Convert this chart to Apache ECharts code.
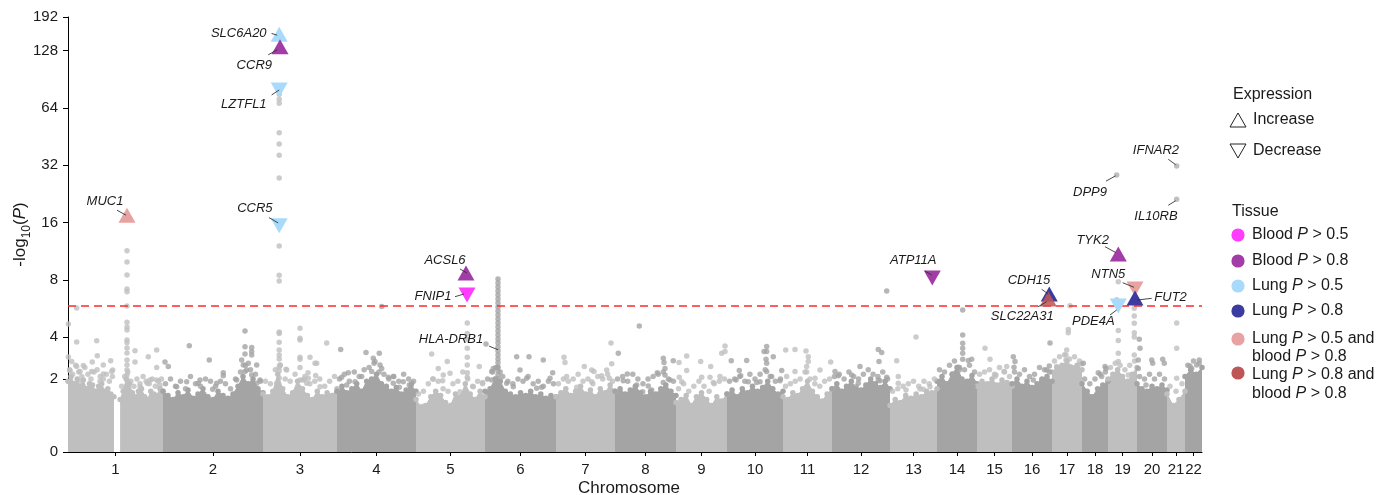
<!DOCTYPE html>
<html><head><meta charset="utf-8">
<script src="https://cdn.jsdelivr.net/npm/echarts@6/dist/echarts.min.js"></script>
<style>html,body{margin:0;padding:0;background:#fff}#chart{width:1387px;height:495px}</style>
</head><body><div id="chart"></div>
<script>
// ---------------- DATA ----------------
const chromLabels = ['1','2','3','4','5','6','7','8','9','10','11','12','13','14','15','16','17','18','19','20','21','22'];
// span of each chromosome on the genome axis (Mb-like units)
const chromSizes = [237.5, 250, 185, 197.5, 172.5, 177.5, 147.5, 152.5, 127.5, 140, 122.5, 145, 117.5, 100, 87.5, 100, 75, 65, 72.5, 75, 45, 42.5];
const yTicks = [0, 2, 4, 8, 16, 32, 64, 128, 192];
const threshold = 5.84;

// upper edge of the dense background cloud (-log10 P), evenly sampled along each chromosome
const cloudTop = [
  [1.9, 2.1, 1.8, 2.0, 1.7, 1.95, 1.6, 1.8, 1.75, 1.5, 1.7, 1.8, 1.5, 1.6, 1.4, 1.3, null, 1.2, 1.5, 2.0, 1.8, 1.45, 1.3, 1.5, 1.6, 1.3, 1.2, 1.5, 1.4, 1.35, 1.6, 1.5],
  [1.5, 1.35, 1.2, 1.45, 1.3, 1.55, 1.25, 1.4, 1.6, 1.3, 1.2, 1.5, 1.35, 1.25, 1.4, 1.7, 2.1, 1.8, 2.0, 1.6, 1.45],
  [1.4, 1.3, 1.5, 2.2, 1.6, 1.3, 1.45, 1.9, 1.6, 1.35, 1.2, 1.5, 1.3, 1.45, 1.35, 1.6],
  [1.5, 1.7, 1.45, 1.6, 1.8, 1.5, 1.9, 2.0, 2.2, 1.8, 1.7, 1.5, 1.65, 1.4, 1.55, 1.75, 1.5],
  [1.2, 0.95, 1.0, 1.3, 1.5, 1.35, 1.1, 1.0, 1.4, 1.3, 1.8, 1.4, 1.2, 1.5, 1.3],
  [1.5, 1.6, 2.0, 1.9, 1.5, 1.4, 1.3, 1.45, 1.35, 1.5, 1.3, 1.4, 1.25, 1.35, 1.3],
  [1.3, 1.45, 1.6, 1.35, 1.5, 1.7, 1.4, 1.55, 1.3, 1.6, 1.45, 1.75, 1.5],
  [1.5, 1.6, 1.4, 1.55, 1.7, 1.45, 1.3, 1.5, 1.4, 1.6, 1.75, 1.5, 1.35],
  [1.1, 1.2, 1.35, 1.0, 1.3, 1.45, 1.2, 1.0, 1.3, 1.15, 1.4],
  [1.4, 1.55, 1.3, 1.6, 1.45, 1.7, 1.5, 1.65, 1.9, 1.6, 1.4, 1.5],
  [1.3, 1.2, 1.45, 1.35, 1.6, 1.9, 1.5, 1.3, 1.15, 1.4, 1.6],
  [1.6, 1.8, 1.5, 1.7, 1.9, 1.6, 1.55, 1.75, 2.0, 1.8, 1.65, 1.9, 1.6],
  [1.0, 1.2, 1.1, 1.35, 1.25, 1.4, 1.3, 1.5, 1.45, 1.6],
  [1.9, 2.1, 1.8, 2.2, 2.5, 2.0, 1.9, 2.15, 1.8],
  [1.7, 1.9, 1.8, 2.0, 1.75, 1.95, 1.85, 1.7],
  [1.8, 2.0, 1.7, 1.9, 1.65, 1.8, 2.0, 2.1, 1.9],
  [2.3, 2.5, 2.6, 2.8, 2.5, 2.6, 2.4],
  [1.8, 1.5, 1.3, 1.6, 1.75, 1.9],
  [2.0, 2.2, 2.4, 2.1, 1.9, 2.2, 2.5],
  [1.8, 1.6, 1.5, 1.7, 1.6, 1.75, 1.55],
  [1.4, 1.0, 1.2, 1.5],
  [2.1, 2.4, 2.2, 2.5]
];
// looser layer of points just above the dense cloud, sampled midway between the cloudTop samples
const cloudSparse = [
  [2.4, 2.2, 2.6, 2.3, 2.1, 2.5, 2.2, 2.0, 2.3, 2.4, 2.1, 2.0, 2.2, 1.9, 2.1, null, null, 1.7, 2.1, 2.3, 1.9, 1.7, 2.0, 1.8, 2.1, 1.9, 1.8, 2.0, 1.7, 1.9, 2.0],
  [1.8, 2.0, 1.7, 1.9, 1.6, 2.1, 1.8, 1.7, 2.0, 1.9, 1.7, 1.9, 1.8, 1.6, 2.0, 2.3, 2.6, 2.4, 2.2, 1.9],
  [1.9, 1.8, 2.4, 2.6, 2.0, 1.9, 2.2, 2.5, 2.1, 1.8, 1.9, 2.0, 1.7, 1.9, 2.1],
  [2.0, 2.2, 1.9, 2.3, 2.1, 2.4, 2.5, 2.7, 2.3, 2.2, 2.0, 2.1, 1.9, 2.2, 2.0, 1.9],
  [1.4, 1.5, 1.8, 2.0, 1.9, 1.6, 1.5, 1.8, 1.9, 2.3, 2.0, 1.7, 1.9, 1.8],
  [2.0, 2.3, 2.5, 2.1, 1.9, 1.8, 2.0, 1.9, 2.1, 1.8, 1.9, 1.7, 1.9, 1.8],
  [1.8, 2.0, 1.9, 2.0, 2.2, 1.9, 2.0, 1.8, 2.1, 2.0, 2.2, 1.9],
  [2.0, 2.1, 1.9, 2.2, 2.0, 1.8, 2.0, 2.1, 2.2, 2.3, 2.0, 1.9],
  [1.6, 1.8, 1.5, 1.7, 1.9, 1.7, 1.5, 1.8, 1.9, 2.0],
  [1.9, 2.0, 2.1, 1.9, 2.2, 2.0, 2.2, 2.4, 2.1, 1.9, 2.0],
  [1.7, 1.8, 1.9, 2.0, 2.3, 2.0, 1.8, 1.7, 1.9, 2.0],
  [2.1, 2.2, 2.0, 2.3, 2.1, 2.0, 2.2, 2.4, 2.2, 2.1, 2.3, 2.0],
  [1.5, 1.6, 1.7, 1.8, 1.9, 1.7, 1.9, 1.8, 2.0],
  [2.4, 2.3, 2.6, 2.8, 2.5, 2.4, 2.6, 2.3],
  [2.2, 2.3, 2.4, 2.2, 2.5, 2.3, 2.1],
  [2.3, 2.2, 2.4, 2.1, 2.2, 2.5, 2.4, 2.3],
  [2.8, 3.0, 3.1, 2.9, 3.0, 2.8],
  [2.0, 1.8, 2.0, 2.2, 2.3],
  [2.5, 2.7, 2.6, 2.4, 2.6, 2.8],
  [2.1, 2.0, 2.2, 2.0, 2.2, 2.0],
  [1.7, 1.5, 1.8],
  [2.6, 2.8, 2.7]
];

// individual points standing out above the cloud: [chromosome, position, -log10 P]
const signals = [
  [1,21.7,5.7],[1,1,4.7],[1,1,2.99],[1,21.7,3.75],[1,71.7,3.82],[1,73.2,3.06],[1,60.7,2.75],[1,21.7,2.55],[1,38.2,2.59],[1,5,2.36],
  [1,106.7,2.81],[1,111.7,2.39],[1,88.2,2.21],[1,167.5,3.3],[1,200.7,3.01],[1,221.7,3.34],[1,167.5,2.75],[1,221.7,2.5],[1,198.2,1.82],[1,221.7,1.95],
  [1,9.2,2.78],[1,30,2.32],[1,88.2,2.61],[1,109.2,2.32],[1,59.2,2.32],[1,34.2,1.9],[1,80,1.9],[1,205,1.95],[1,180,1.68],[1,230,1.75],
  [1,147.5,11.4],[1,147.5,9.94],[1,147.5,8.49],[1,147.5,7.17],[1,147.5,6.93],[1,147.5,5.84],[1,147.5,4.8],[1,147.5,4.53],[1,147.5,4.37],
  [1,147.5,3.86],[1,147.5,3.71],[1,147.5,3.44],[1,147.5,3.19],[1,147.5,2.85],[1,147.5,2.61],[1,147.5,2.39],[1,147.5,2.17],[1,147.5,1.95],
  [2,5,2.75],[2,13.2,2.55],[2,65.7,3.56],[2,115.7,2.85],[2,150.7,2.27],[2,150.7,2.13],[2,59.2,1.88],[2,92.5,1.95],[2,124.2,1.58],[2,205,4.32],
  [2,205,3.5],[2,205,3.14],[2,221.7,3.47],[2,221.7,3.26],[2,221.7,3.09],[2,196.7,2.85],[2,200.7,2.61],[2,213.2,2.69],[2,234.2,2.61],[2,209.2,2.39],
  [2,221.7,2.17],[2,242.5,1.95],[2,234.2,1.82],[2,205,2.32],[2,34.2,1.68],[2,88.2,1.82],[2,134.2,1.82],[2,184.2,1.95],
  [3,40.5,75.4],[3,40.5,71.0],[3,40.5,67.7],[3,40.5,47.4],[3,40.5,41.4],[3,40.5,36.1],[3,40.5,27.4],[3,40.5,12.06],[3,40.5,8.46],[3,40.5,7.9],
  [3,40.5,4.26],[3,40.5,4.19],[3,40.5,3.74],[3,40.5,3.34],[3,40.5,3.09],[3,40.5,2.9],[3,40.5,2.52],[3,40.5,2.35],[3,40.5,2.04],[3,40.5,1.63],
  [3,57.5,2.42],[3,42.5,2.61],[3,92.5,4.46],[3,92.5,3.95],[3,92.5,3.86],[3,92.5,2.98],[3,92.5,2.89],[3,92.5,1.95],[3,117.5,2.98],[3,130,2.69],
  [3,113.2,2.03],[3,99.2,1.95],[3,134.2,2.7],[3,131.7,2.14],[3,103.2,1.98],[3,159.2,3.7],[3,112.5,2.26],[3,59.2,2.39],[3,34.2,1.82],[3,109.2,1.82],[3,142.5,1.68],
  [4,11.7,2.07],[4,9.2,3.37],[4,28.2,2.27],[4,72.5,3.21],[4,105.7,3.18],[4,90.7,2.93],[4,95,2.78],[4,107.5,2.61],[4,111.7,2.46],[4,86.7,2.32],
  [4,111.7,5.8],[4,128.2,2.07],[4,140.7,1.82],[4,155.7,1.66],[4,186.7,1.82],[4,180.7,1.75],[4,45,1.88],[4,61.7,2.1],[4,140.7,2.1],[4,165.7,1.88],[4,24.2,1.75],
  [5,128.2,4.76],[5,128.2,4.19],[5,128.2,3.89],[5,128.2,3.43],[5,128.2,2.98],[5,128.2,2.61],[5,128.2,2.27],[5,128.2,2.07],
  [5,39.2,3.14],[5,41.7,2.0],[5,78.2,2.78],[5,66.7,1.92],[5,110,1.49],[5,68.2,2.17],[5,166.7,1.85],[5,51.7,1.3],[5,18.2,0.97],[5,143.2,1.68],
  [5,158.2,2.55],[5,55.7,2.46],[5,85,2.24],
  [6,32.5,8.09],[6,32.5,7.71],[6,32.5,7.35],[6,32.5,7.0],[6,32.5,6.67],[6,32.5,6.35],[6,32.5,6.06],[6,32.5,5.77],[6,32.5,5.5],[6,32.5,5.24],
  [6,32.5,4.99],[6,32.5,4.76],[6,32.5,4.53],[6,32.5,4.32],[6,32.5,4.11],[6,32.5,3.91],[6,32.5,3.71],[6,32.5,3.49],[6,32.5,3.29],[6,32.5,3.09],
  [6,32.5,2.9],[6,32.5,2.72],[6,32.5,2.52],[6,32.5,2.35],[6,32.5,2.17],[6,32.5,2.0],[6,32.5,1.83],[6,32.5,1.67],[6,32.5,1.52],[6,32.5,1.36],
  [6,27,2.5],[6,38,2.3],[6,27,2.0],[6,38,1.9],[6,25,1.7],[6,40,1.6],
  [6,79.2,3.01],[6,110,3.01],[6,145.7,2.85],[6,87.5,2.39],[6,104.2,2.03],[6,141.7,1.66],[6,169.2,2.27],[6,162.5,2.03],[6,54.2,1.82],[6,16.7,2.32],
  [6,20.7,2.46],[6,2.5,3.64],[6,16.7,1.95],[6,70.7,1.68],[6,129.2,1.62],
  [7,20,2.98],[7,22.5,2.73],[7,70.7,2.55],[7,95,2.32],[7,137.5,3.7],[7,139.2,2.67],[7,133.2,2.03],[7,114.2,2.13],[7,89.2,1.88],[7,26.7,2.1],
  [7,51.7,1.66],[7,89.2,2.39],[7,126.7,2.39],
  [8,8.2,3.18],[8,60.7,4.58],[8,30.7,2.21],[8,20.7,1.92],[8,54.2,1.75],[8,120.7,2.93],[8,122.5,2.73],[8,145.7,2.81],[8,105.7,2.27],[8,125,2.17],
  [8,83.2,1.71],[8,69.2,1.49],[8,120.7,1.85],[8,137.5,1.95],[8,125,2.46],[8,50,1.58],[8,91.7,1.55],
  [9,7.5,2.73],[9,26.7,3.04],[9,26.7,2.36],[9,8.2,2.07],[9,61.7,2.78],[9,86.7,2.55],[9,122.5,3.54],[9,122.5,3.26],[9,114.2,3.18],[9,93.2,1.85],
  [9,64.2,2.07],[9,110,2.1],[9,14.2,1.88],[9,85,2.07],
  [10,10.7,2.81],[10,22.5,1.95],[10,49.2,2.83],[10,53.2,1.88],[10,82.5,1.88],[10,99.2,3.52],[10,99.2,3.26],[10,97.5,2.88],[10,99.2,2.69],[10,115.7,3.01],
  [10,99.2,2.32],[10,111.7,2.1],[10,136.7,2.36],[10,132.5,1.92],[10,92.5,3.26],[10,34.2,2.13],[10,30.7,2.36],[10,74.2,1.85],
  [11,6.7,3.34],[11,30,3.37],[11,57.5,3.29],[11,63.2,3.01],[11,63.2,2.78],[11,59.2,2.55],[11,119.2,2.75],[11,80,2.03],[11,59.2,2.3],[11,30,2.32],
  [11,92.5,2.39],[11,9.2,2.1],
  [12,7.5,2.32],[12,15.7,2.13],[12,49.2,2.17],[12,65.7,1.82],[12,115.7,3.37],[12,124.2,3.21],[12,117.5,2.78],[12,136.7,2.07],[12,120,1.92],[12,99.2,1.58],
  [12,60,1.68],[12,136.7,7.0],[12,70,2.55],[12,115.7,1.95],
  [13,65,4.01],[13,16.7,2.81],[13,40,1.55],[13,83.2,1.58],[13,20.7,1.82],[13,75,1.59],[13,104.2,1.42],[13,20.7,2.1],[13,100,1.68],
  [14,64.2,5.56],[14,64.2,4.11],[14,64.2,3.69],[14,64.2,3.43],[14,64.2,3.18],[14,64.2,2.89],
  [14,53.2,2.51],[14,86.7,2.89],[14,78.2,2.83],[14,39.2,2.21],[14,55.7,2.39],[14,90.7,1.68],[14,40.7,1.98],
  [15,20,3.43],[15,32.5,2.89],[15,74.2,2.55],[15,47.5,2.17],[15,67.5,2.32],[15,7.5,1.75],[15,45,2.1],
  [16,3.2,3.01],[16,7.5,2.78],[16,5,2.51],[16,95,3.7],[16,93.2,2.57],[16,74.2,1.95],[16,53.2,1.95],[16,86.7,2.39],
  [17,45,5.85],[17,40.7,4.4],[17,40.7,4.23],[17,36.7,3.34],[17,35,3.09],[17,35,2.85],[17,45,2.55],[17,11.7,2.55],[17,74.2,2.67],[17,24.2,2.32],[17,65.7,2.61],
  [18,40.7,2.27],[18,57.5,2.55],[18,57.5,1.68],[18,49.2,2.1],[18,3.2,2.69],[18,60,2.46],
  [19,25.7,7.83],[19,21.7,6.3],[19,25.7,4.34],[19,25.7,3.83],[19,25.7,3.18],[19,25.7,2.78],[19,25.7,2.17],[19,50.7,2.17],
  [19,65.7,5.68],[19,65.7,5.17],[19,65.7,4.74],[19,65.7,4.23],[19,65.7,4.01],[19,65.7,3.09],
  [20,5.7,3.89],[20,7.5,3.43],[20,3.2,2.85],[20,3.2,2.46],[20,64.2,2.89],[20,36.7,2.85],[20,39.2,2.69],[20,68.2,2.69],[20,22.5,1.75],
  [21,24.2,4.76],[21,24.2,3.43],[21,24.2,2.03],
  [22,35.7,2.85],[22,12.5,2.57],[22,29.2,2.61],[22,16.7,2.46]
];

// annotated genes: [name, chromosome, position, -log10 P, expression direction, tissue]
const genes = [
  ['MUC1', 1, 147.5, 17.5, 'up', 'l05b08'],
  ['SLC6A20', 3, 40.5, 156, 'up', 'l05'],
  ['CCR9', 3, 42.5, 134, 'up', 'b08'],
  ['LZTFL1', 3, 40.5, 79.5, 'down', 'l05'],
  ['CCR5', 3, 40.5, 15.4, 'down', 'l05'],
  ['ACSL6', 5, 125, 8.7, 'up', 'b08'],
  ['FNIP1', 5, 127.5, 6.67, 'down', 'b05'],
  ['HLA-DRB1', 6, 32.5, 3.35, null, null],
  ['ATP11A', 13, 105.7, 8.19, 'down', 'b08'],
  ['CDH15', 16, 93.2, 6.75, 'up', 'l08'],
  ['SLC22A31', 16, 90.7, 6.35, 'up', 'l08b08'],
  ['DPP9', 19, 21.7, 28.4, null, 'none'],
  ['TYK2', 19, 25.7, 10.95, 'up', 'b08'],
  ['PDE4A', 19, 25.7, 5.84, 'down', 'l05'],
  ['NTN5', 19, 67.5, 7.17, 'down', 'l05b08'],
  ['FUT2', 19, 67.5, 6.43, 'up', 'l08'],
  ['IFNAR2', 21, 24.2, 31.7, null, 'none'],
  ['IL10RB', 21, 24.2, 21.2, null, 'none']
];

const tissueKeys = ['b05', 'b08', 'l05', 'l08', 'l05b08', 'l08b08'];
const tissueLabels = [
  ['Blood {i|P} > 0.5'],
  ['Blood {i|P} > 0.8'],
  ['Lung {i|P} > 0.5'],
  ['Lung {i|P} > 0.8'],
  ['Lung {i|P} > 0.5 and', 'blood {i|P} > 0.8'],
  ['Lung {i|P} > 0.8 and', 'blood {i|P} > 0.8']
];

// ---------------- STYLE ----------------
const FONT = "'Liberation Sans', Arial, Helvetica, sans-serif";
const LIGHT = '#bfbfbf', DARK = '#a4a4a4';
const tissueColors = {b05:'#ff3cff', b08:'#a23ca6', l05:'#a8dbfb', l08:'#3b3ba0', l05b08:'#e8a2a2', l08b08:'#bf5656'};
// label placement relative to the marked point (px): t = text anchor, l = leader line
const labelStyle = {
  'MUC1':    {t:[-22,-14], a:'center', l:[-10,-5,-1,0]},
  'SLC6A20': {t:[-12.6,-0.7], a:'right', l:[-7.6,-0.7,-2,1]},
  'CCR9':    {t:[-25.7,19], a:'center', l:[-11.7,8,-2.7,3]},
  'LZTFL1':  {t:[-12.6,14], a:'right', l:[-7.6,5,0,0]},
  'CCR5':    {t:[-24.3,-17.8], a:'center', l:[-10.3,-8.2,-1,-2.8]},
  'ACSL6':   {t:[-21,-13], a:'center', l:[-6,-4,1,0]},
  'FNIP1':   {t:[-34,1.7], a:'center', l:[-12,1.7,-3,-1]},
  'HLA-DRB1':{t:[-47,-10], a:'center', l:[-9,-3.7,0,0]},
  'ATP11A':  {t:[-19,-17.3], a:'center', l:[-7.3,-7,-0.6,-3]},
  'CDH15':   {t:[-20.3,-13.3], a:'center', l:[-7.6,-4.7,-1,0]},
  'SLC22A31':{t:[-26,17.7], a:'center', l:[-10.3,7.7,-1.6,2.7]},
  'DPP9':    {t:[-26.7,17.3], a:'center', l:[-10.7,6,-1,0.7]},
  'TYK2':    {t:[-25.6,-13.3], a:'center', l:[-13.3,-7.3,-2.3,-1.3]},
  'PDE4A':   {t:[-25,15.7], a:'center', l:[-8.3,9,-1.6,4]},
  'NTN5':    {t:[-26.7,-15], a:'center', l:[-12.3,-6.3,-1,-1.7]},
  'FUT2':    {t:[19.3,-0.7], a:'left', l:[16.7,0.3,2.3,2]},
  'IFNAR2':  {t:[-20.7,-15.3], a:'center', l:[-8.4,-6.7,-1,-1.3]},
  'IL10RB':  {t:[-20.7,16.7], a:'center', l:[-8.4,6,-1,1.4]}
};

// ---------------- SCALES ----------------
function ty(v) { return v < 4 ? 2 * Math.pow(v / 4, 0.65) : Math.log2(v); }
const chromStart = []; let acc = 0;
chromSizes.forEach(s => { chromStart.push(acc); acc += s; });
const genomeLen = acc;
const chromMid = chromSizes.map((s, i) => chromStart[i] + s / 2);
const gx = (chr, pos) => chromStart[chr - 1] + pos;
const chromColor = chr => (chr % 2 === 1 ? LIGHT : DARK);
const yTickPos = yTicks.map(ty);

function nearestIndex(arr, v) {
  let b = 0;
  arr.forEach((a, i) => { if (Math.abs(a - v) < Math.abs(arr[b] - v)) b = i; });
  return b;
}

// ---------------- SERIES ----------------
const cloudSeries = cloudTop.map((tops, i) => {
  const n = tops.length, step = chromSizes[i] / (n - 1), col = chromColor(i + 1);
  return {
    type: 'line', silent: true, z: 1, symbol: 'circle', symbolSize: 5.5, showSymbol: true,
    connectNulls: false, animation: false,
    data: tops.map((v, j) => [chromStart[i] + j * step, v == null ? '-' : ty(v)]),
    itemStyle: {color: col}, lineStyle: {width: 1, color: col},
    areaStyle: {color: col, opacity: 1}
  };
});

const sparseData = [];
cloudSparse.forEach((vals, i) => {
  const step = chromSizes[i] / (cloudTop[i].length - 1);
  vals.forEach((v, j) => {
    if (v != null) sparseData.push({value: [chromStart[i] + (j + 0.5) * step, ty(v)], itemStyle: {color: chromColor(i + 1)}});
  });
});
const sparseSeries = {type: 'scatter', silent: true, z: 2, symbolSize: 5.5, animation: false, data: sparseData};

const signalSeries = {
  type: 'scatter', silent: true, z: 2, symbolSize: 5.5, animation: false,
  data: signals.map(([c, p, v]) => ({value: [gx(c, p), ty(v)], itemStyle: {color: chromColor(c)}}))
};

const thresholdSeries = {
  type: 'line', silent: true, z: 3, symbol: 'none', animation: false,
  data: [[0, ty(threshold)], [genomeLen, ty(threshold)]],
  lineStyle: {color: '#ff2a2a', width: 1.6, type: [8, 5], opacity: 1}
};

const markerGenes = genes.filter(g => g[5] !== null);
const markerSeries = {
  type: 'scatter', silent: true, z: 4, animation: false,
  data: markerGenes.map(g => ({
    value: [gx(g[1], g[2]), ty(g[3])],
    symbol: g[4] ? 'triangle' : 'circle',
    symbolRotate: g[4] === 'down' ? 180 : 0,
    symbolSize: g[4] ? [17, 15] : 5.5,
    itemStyle: {color: tissueColors[g[5]] || chromColor(g[1]), opacity: g[0] === 'SLC22A31' ? 0.88 : 1}
  }))
};

const labelSeries = {
  type: 'custom', silent: true, z: 6, animation: false,
  data: genes.map(g => [gx(g[1], g[2]), ty(g[3])]),
  renderItem: (params, api) => {
    const g = genes[params.dataIndex], L = labelStyle[g[0]];
    const c = api.coord([api.value(0), api.value(1)]);
    return {
      type: 'group', children: [
        {type: 'line', shape: {x1: c[0] + L.l[0], y1: c[1] + L.l[1], x2: c[0] + L.l[2], y2: c[1] + L.l[3]},
         style: {stroke: '#333', lineWidth: 0.9}},
        {type: 'text', x: c[0] + L.t[0], y: c[1] + L.t[1],
         style: {text: g[0], fontSize: 13, fontStyle: 'italic', fontFamily: FONT, fill: '#1a1a1a',
                 align: L.a, verticalAlign: 'middle', textAlign: L.a, textVerticalAlign: 'middle'}}
      ]
    };
  }
};

// ---------------- LEGEND (graphic) ----------------
const LX = 1238, TX = 1252;
const legendFont = {fontSize: 16, fontFamily: FONT, fill: '#1a1a1a', verticalAlign: 'middle',
                    rich: {i: {fontStyle: 'italic', fontSize: 16, fontFamily: FONT}}};
const graphics = [
  {type: 'text', x: 1233, y: 95, style: Object.assign({}, legendFont, {text: 'Expression'})},
  {type: 'polygon', shape: {points: [[LX - 8, 127], [LX, 113], [LX + 8, 127]]}, style: {fill: 'none', stroke: '#222', lineWidth: 1}},
  {type: 'text', x: TX + 1, y: 120, style: Object.assign({}, legendFont, {text: 'Increase'})},
  {type: 'polygon', shape: {points: [[LX - 8, 144], [LX + 8, 144], [LX, 158]]}, style: {fill: 'none', stroke: '#222', lineWidth: 1}},
  {type: 'text', x: TX + 1, y: 151, style: Object.assign({}, legendFont, {text: 'Decrease'})},
  {type: 'text', x: 1232, y: 212, style: Object.assign({}, legendFont, {text: 'Tissue'})}
];
const circleY = [235, 261, 286, 311, 339, 373];
tissueKeys.forEach((k, i) => {
  graphics.push({type: 'circle', shape: {cx: LX, cy: circleY[i], r: 6.6}, style: {fill: tissueColors[k]}});
  tissueLabels[i].forEach((line, j) => {
    graphics.push({type: 'text', x: TX, y: circleY[i] + j * 18.4 + (i === 5 ? 2 : 0) - (i === 4 ? 0.7 : 0),
                   style: Object.assign({}, legendFont, {text: line})});
  });
});

// ---------------- CHART ----------------
const chart = echarts.init(document.getElementById('chart'), null, {renderer: 'canvas'});
chart.setOption({
  animation: false,
  backgroundColor: '#ffffff',
  grid: {left: 68, right: 185, top: 17, bottom: 43, containLabel: false, outerBoundsMode: 'none'},
  xAxis: {
    type: 'value', min: 0, max: genomeLen,
    splitLine: {show: false},
    axisLine: {show: true, onZero: false, lineStyle: {color: '#000', width: 1}},
    axisTick: {show: true, customValues: chromMid, length: 4, lineStyle: {color: '#000'}},
    axisLabel: {customValues: chromMid, formatter: v => chromLabels[nearestIndex(chromMid, v)],
                fontSize: 15, fontFamily: FONT, color: '#1a1a1a', margin: 10},
    name: 'Chromosome', nameLocation: 'middle', nameGap: 28, nameMoveOverlap: false,
    nameTextStyle: {fontSize: 17, fontFamily: FONT, color: '#1a1a1a', padding: [0, 12, 0, 0]}
  },
  yAxis: {
    type: 'value', min: 0, max: ty(192),
    splitLine: {show: false},
    axisLine: {show: true, onZero: false, lineStyle: {color: '#000', width: 1}},
    axisTick: {show: true, customValues: yTickPos, length: 5, lineStyle: {color: '#000'}},
    axisLabel: {customValues: yTickPos, formatter: v => String(yTicks[nearestIndex(yTickPos, v)]),
                fontSize: 15, fontFamily: FONT, color: '#1a1a1a', margin: 10},
    name: '-log{sub|10}({i|P})', nameLocation: 'middle', nameRotate: 90, nameGap: 48, nameMoveOverlap: false,
    nameTextStyle: {fontSize: 17, fontFamily: FONT, color: '#1a1a1a', verticalAlign: 'middle',
      rich: {sub: {fontSize: 12, fontFamily: FONT, verticalAlign: 'bottom', lineHeight: 12, padding: [0, 0, -4, 0]},
             i: {fontSize: 17, fontFamily: FONT, fontStyle: 'italic'}}}
  },
  series: [...cloudSeries, sparseSeries, signalSeries, thresholdSeries, markerSeries, labelSeries],
  graphic: graphics
});
</script>
</body></html>
